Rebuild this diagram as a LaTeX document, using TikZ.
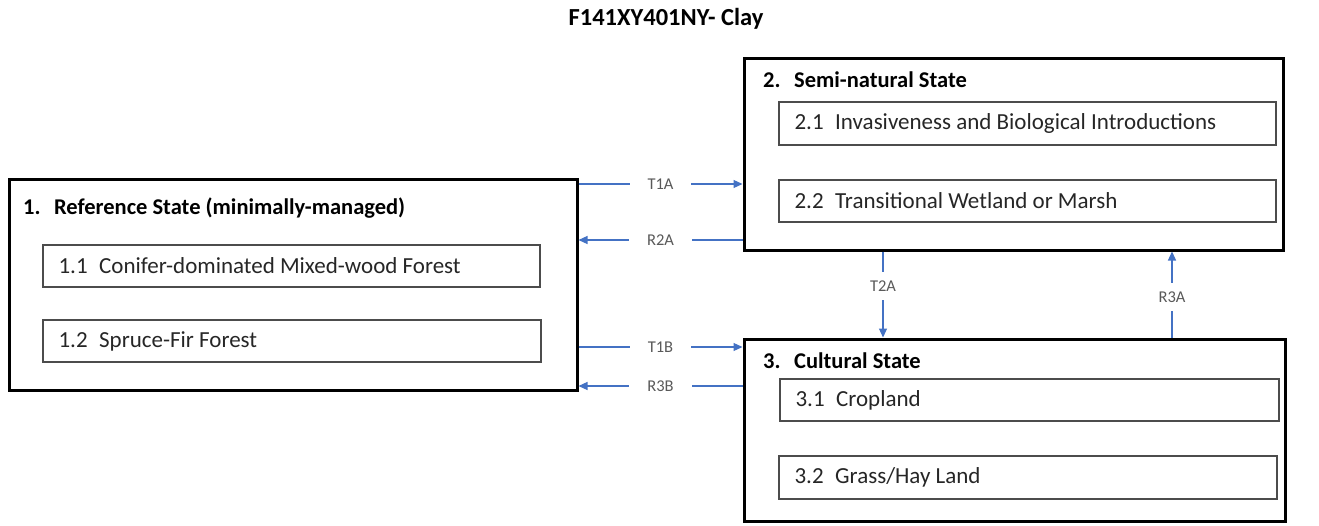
\documentclass[tikz,border=0pt]{standalone}
\usepackage{fontspec}
\setmainfont{Carlito}
\usetikzlibrary{arrows.meta,calc}
\definecolor{arrowblue}{HTML}{4472C4}
\definecolor{lblgray}{HTML}{595959}
\tikzset{
  bigbox/.style={draw=black, line width=3pt, minimum width=#1, inner sep=0pt},
  subbox/.style={draw=black!70, line width=1.3pt, minimum height=42pt, minimum width=#1, inner sep=0pt},
  subtext/.style={anchor=west, inner sep=0pt, font=\fontsize{23}{27}\selectfont, text=black!85},
  boxtitle/.style={anchor=west, inner sep=0pt, font=\fontsize{22.5}{27}\selectfont\bfseries},
  conn/.style={draw=arrowblue, line width=1.2pt, -{Triangle[length=9pt,width=8pt]}},
  lbl/.style={fill=white, inner xsep=18pt, inner ysep=2pt, font=\fontsize{16.5}{19}\selectfont, text=lblgray},
}
\begin{document}
\begin{tikzpicture}[x=1pt,y=-1pt]
\useasboundingbox (0,0) rectangle (1319,525);
\node[inner sep=0pt, font=\fontsize{24.5}{28}\selectfont\bfseries] (title) at (666,19) {F141XY401NY- Clay};
% big boxes
\node[bigbox=568pt, minimum height=211pt] (b1) at (293,284.5) {};
\node[bigbox=539pt, minimum height=192pt] (b2) at (1013.5,154) {};
\node[bigbox=541pt, minimum height=182pt] (b3) at (1014.5,430) {};
% titles
\node[boxtitle] (t1) at (23,208) {1.\hspace{0.6em}Reference State (minimally-managed)};
\node[boxtitle] (t2) at (763,80) {2.\hspace{0.6em}Semi-natural State};
\node[boxtitle] (t3) at (763,361) {3.\hspace{0.6em}Cultural State};
% sub boxes
\node[subbox=497pt] (s11) at (291.5,266) {};
\node[subbox=498pt] (s12) at (292,341) {};
\node[subbox=497pt, minimum height=43pt] (s21) at (1027.5,123.5) {};
\node[subbox=497pt] (s22) at (1027.5,201) {};
\node[subbox=499pt] (s31) at (1029.5,400) {};
\node[subbox=498pt, minimum height=43pt] (s32) at (1028,477.5) {};
\node[subtext] (s11t) at ([xshift=16pt]s11.west) {1.1\hspace{0.5em}Conifer-dominated Mixed-wood Forest};
\node[subtext] (s12t) at ([xshift=16pt]s12.west) {1.2\hspace{0.5em}Spruce-Fir Forest};
\node[subtext] (s21t) at ([xshift=16pt]s21.west) {2.1\hspace{0.5em}Invasiveness and Biological Introductions};
\node[subtext] (s22t) at ([xshift=16pt]s22.west) {2.2\hspace{0.5em}Transitional Wetland or Marsh};
\node[subtext] (s31t) at ([xshift=16pt]s31.west) {3.1\hspace{0.5em}Cropland};
\node[subtext] (s32t) at ([xshift=16pt]s32.west) {3.2\hspace{0.5em}Grass/Hay Land};
% connector levels
\coordinate (yT1A) at (0,184);
\coordinate (yR2A) at (0,240);
\coordinate (yT1B) at (0,347);
\coordinate (yR3B) at (0,386);
\coordinate (xT2A) at (883,0);
\coordinate (xR3A) at (1172,0);
% connectors
\draw[conn] (b1.east |- yT1A) -- node[lbl] {T1A} (b2.west |- yT1A);
\draw[conn] (b2.west |- yR2A) -- node[lbl] {R2A} (b1.east |- yR2A);
\draw[conn] (b1.east |- yT1B) -- node[lbl] {T1B} (b3.west |- yT1B);
\draw[conn] (b3.west |- yR3B) -- node[lbl] {R3B} (b1.east |- yR3B);
\draw[conn] (xT2A |- b2.south) -- node[lbl, inner xsep=2pt, inner ysep=9pt, pos=0.4] {T2A} (xT2A |- b3.north);
\draw[conn] (xR3A |- b3.north) -- node[lbl, inner xsep=2pt, inner ysep=9pt, pos=0.47] {R3A} (xR3A |- b2.south);
\end{tikzpicture}
\end{document}
